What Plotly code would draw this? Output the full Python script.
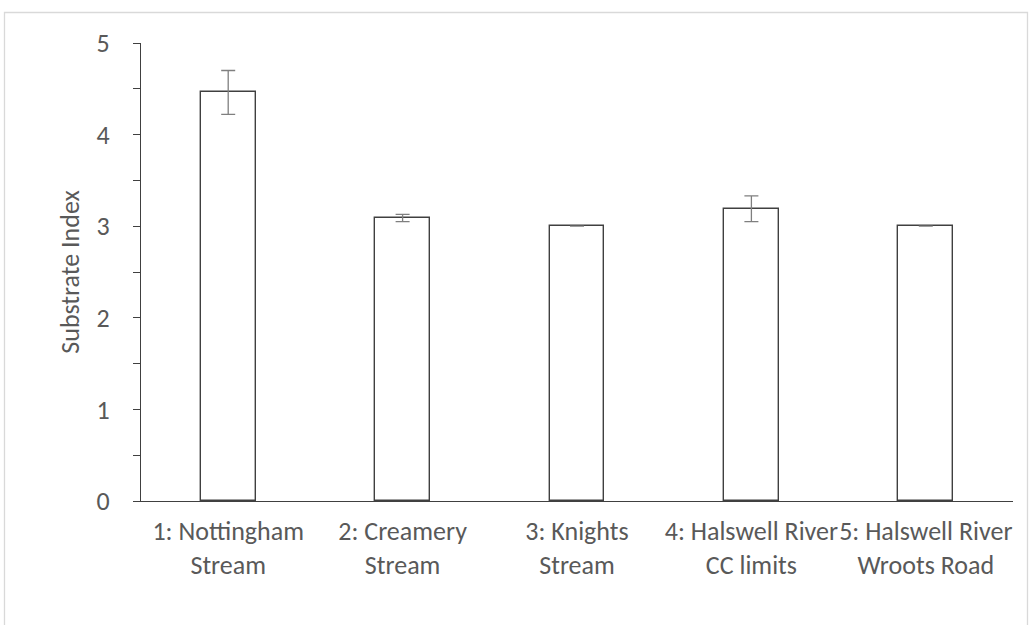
import plotly.graph_objects as go

# Site categories and mean substrate index with standard error
sites = [
    "1: Nottingham<br>Stream",
    "2: Creamery<br>Stream",
    "3: Knights<br>Stream",
    "4: Halswell River<br>CC limits",
    "5: Halswell River<br>Wroots Road",
]
substrate_index = [4.46, 3.09, 3.0, 3.19, 3.0]
std_error = [0.24, 0.04, 0.0, 0.14, 0.0]

W, H = 1029, 625
L, R, T, B = 141, 16, 43, 124
plot_w = W - L - R
plot_h = H - T - B

text_color = "#595959"
font_family = "Calibri, Carlito, Lato, sans-serif"
font_size = 26

fig = go.Figure(
    go.Bar(
        x=sites,
        y=substrate_index,
        width=0.315,
        marker=dict(color="white", line=dict(color="#404040", width=1.4)),
        error_y=dict(
            type="data",
            array=std_error,
            visible=True,
            color="#7f7f7f",
            thickness=1.3,
            width=7,
        ),
    )
)

# light frame around the chart area
def px_to_paper_x(px):
    return (px - L) / plot_w

def px_to_paper_y(py):
    return (H - B - py) / plot_h

fig.add_shape(
    type="rect",
    xref="paper",
    yref="paper",
    x0=px_to_paper_x(4.5),
    x1=px_to_paper_x(1027.5),
    y0=px_to_paper_y(660),
    y1=px_to_paper_y(12.5),
    line=dict(color="#d9d9d9", width=1.3),
    fillcolor="rgba(0,0,0,0)",
    layer="below",
)

fig.update_layout(
    width=W,
    height=H,
    margin=dict(l=L, r=R, t=T, b=B, autoexpand=False),
    paper_bgcolor="white",
    plot_bgcolor="white",
    showlegend=False,
    bargap=0,
    font=dict(family=font_family, size=font_size, color=text_color),
    xaxis=dict(
        showline=True,
        linecolor="#404040",
        linewidth=1.4,
        ticks="",
        showgrid=False,
        tickangle=0,
        tickfont=dict(size=font_size, color=text_color),
        ticklabelstandoff=7,
        range=[-0.5, 4.5],
    ),
    yaxis=dict(
        range=[0, 5],
        dtick=1,
        tick0=0,
        showline=True,
        linecolor="#404040",
        linewidth=1.4,
        ticks="outside",
        ticklen=7,
        tickcolor="#404040",
        tickwidth=1.4,
        showgrid=False,
        zeroline=False,
        tickfont=dict(size=font_size, color=text_color),
        ticklabelstandoff=18,
        minor=dict(dtick=0.5, ticks="outside", ticklen=7, tickcolor="#404040", tickwidth=1.4, showgrid=False),
        title=dict(text="Substrate Index", font=dict(size=font_size, color=text_color), standoff=9),
    ),
)

fig.write_html("out.html")
